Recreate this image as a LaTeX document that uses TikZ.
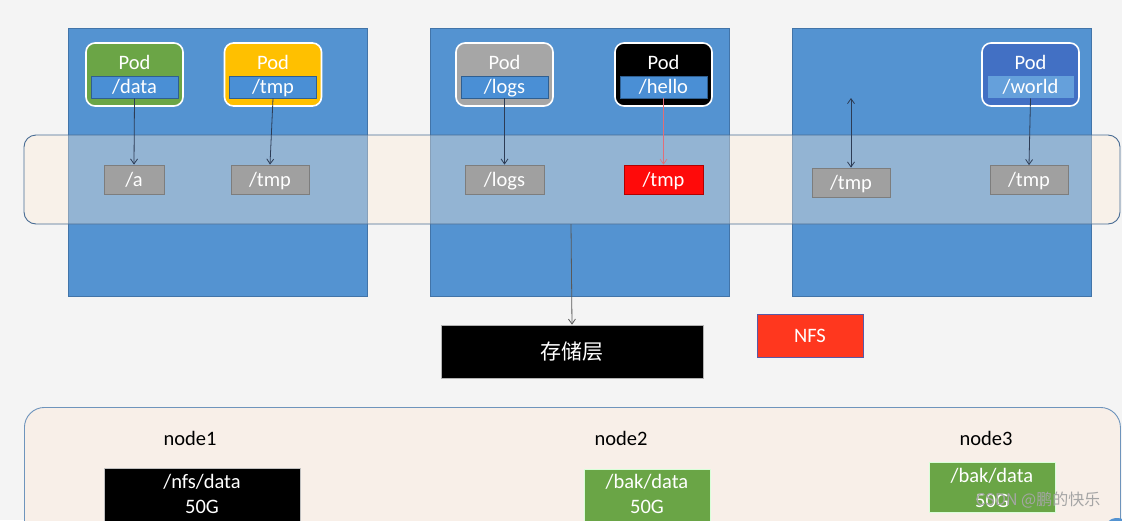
\documentclass[tikz,border=0pt]{standalone}
\usepackage{fontspec}
\setmainfont{Carlito}
\newfontfamily\cjk{Noto Sans CJK SC}
\usetikzlibrary{arrows.meta}
\definecolor{bgc}{RGB}{244,244,244}
\definecolor{hostblue}{RGB}{84,147,209}
\definecolor{hostedge}{RGB}{66,116,168}
\definecolor{bandfill}{RGB}{255,237,216}
\definecolor{bandedge}{RGB}{72,108,148}
\definecolor{podgreen}{RGB}{107,165,70}
\definecolor{podyellow}{RGB}{255,192,0}
\definecolor{podgray}{RGB}{166,166,166}
\definecolor{podnavy}{RGB}{66,112,196}
\definecolor{mountblue}{RGB}{74,143,213}
\definecolor{mountedge}{RGB}{47,95,145}
\definecolor{volgray}{RGB}{160,160,160}
\definecolor{voledge}{RGB}{125,125,125}
\definecolor{volred}{RGB}{255,10,10}
\definecolor{nfsred}{RGB}{255,55,30}
\definecolor{panelfill}{RGB}{248,239,232}
\definecolor{paneledge}{RGB}{110,148,188}
\definecolor{linkc}{RGB}{45,60,85}
\definecolor{linkred}{RGB}{225,110,120}
\definecolor{diskgreen}{RGB}{106,165,70}
\definecolor{wmgray}{RGB}{165,165,165}
\tikzset{
  txt/.style={font=\fontsize{20.5}{23}\selectfont},
  hostbox/.style={draw=hostedge, fill=hostblue, line width=0.8pt, minimum width=299pt, minimum height=268pt, inner sep=0pt},
  podbox/.style={draw=white, line width=1.6pt, rounded corners=9pt, minimum width=97pt, minimum height=63pt, inner sep=0pt},
  podlabel/.style={txt, text=white, inner sep=0pt},
  mountbox/.style={txt, text=white, fill=mountblue, draw=mountedge, line width=0.8pt, minimum width=87pt, minimum height=22pt, inner sep=0pt, text height=15pt, text depth=2pt},
  volbox/.style={txt, text=white, fill=volgray, draw=voledge, line width=0.8pt, minimum height=29pt, inner sep=0pt, text height=15pt, text depth=2pt},
  link/.style={draw=linkc, line width=0.8pt, -{Straight Barb[length=5pt,width=7pt]}},
  diskbox/.style={text=white, align=center, inner sep=0pt, font=\fontsize{20.5}{25.5}\selectfont},
  nodelabel/.style={txt, text=black, inner sep=0pt}
}
\begin{document}
\begin{tikzpicture}[x=1pt,y=-1pt]
\useasboundingbox (0,0) rectangle (1122,520);
\clip (0,0) rectangle (1122,520);
\fill[bgc] (0,0) rectangle (1122,520);

% host boxes
\node[hostbox] (h1) at (217.5,162) {};
\node[hostbox] (h2) at (579.5,162) {};
\node[hostbox] (h3) at (941.5,162) {};

% band
\node[draw=bandedge, line width=0.9pt, fill=bandfill, fill opacity=0.37, rounded corners=12pt, minimum width=1096pt, minimum height=89pt, inner sep=0pt] (band) at (572,179.5) {};

% pods
\node[podbox, fill=podgreen] (p1) at (134.5,74.5) {};
\node[podlabel] (p1l) at (134.5,62) {Pod};
\node[mountbox] (m1) at (134.5,87) {/data};

\node[podbox, fill=podyellow] (p2) at (273,74.5) {};
\node[podlabel] (p2l) at (273,62) {Pod};
\node[mountbox] (m2) at (273,87) {/tmp};

\node[podbox, fill=podgray] (p3) at (504.5,74.5) {};
\node[podlabel] (p3l) at (504.5,62) {Pod};
\node[mountbox] (m3) at (504.5,87) {/logs};

\node[podbox, fill=black] (p4) at (663.5,74.5) {};
\node[podlabel] (p4l) at (663.5,62) {Pod};
\node[mountbox] (m4) at (663.5,87) {/hello};

\node[podbox, fill=podnavy] (p5) at (1030.5,74.5) {};
\node[podlabel] (p5l) at (1030.5,62) {Pod};
\node[mountbox, fill=mountblue!85!white, draw=none, minimum width=86pt] (m5) at (1030.5,87) {/world};

% volumes in band
\node[volbox, minimum width=60pt] (va) at (134,179.5) {/a};
\node[volbox, minimum width=78pt] (vt1) at (270,179.5) {/tmp};
\node[volbox, minimum width=79pt] (vl) at (504.5,179.5) {/logs};
\node[volbox, minimum width=79pt, fill=volred, draw=red!70!black] (vr) at (663.5,179.5) {/tmp};
\node[volbox, minimum width=78pt] (vt3) at (851,182.5) {/tmp};
\node[volbox, minimum width=78pt] (vt4) at (1029,180) {/tmp};

% links
\draw[link] (m1.south) -- (va.north);
\draw[link] (m2.south) -- (vt1.north);
\draw[link] (m3.south) -- (vl.north);
\draw[link, draw=linkred, line width=0.6pt] (m4.south) -- (vr.north);
\draw[link] (m5.south) -- (vt4.north);
\coordinate (up3) at (851,98);
\draw[link, {Straight Barb[length=5pt,width=7pt]}-{Straight Barb[length=5pt,width=7pt]}] (up3) -- (vt3.north);

% storage layer
\node[fill=black, draw=gray!60, line width=0.6pt, minimum width=262pt, minimum height=53pt, inner sep=0pt, text=white, font=\cjk\fontsize{21}{23}\selectfont] (store) at (572,351.5) {存储层};
\coordinate (bandbot) at (571,224);
\draw[draw=gray!70!black, line width=0.8pt, -{Straight Barb[length=5pt,width=7pt]}] (bandbot) -- (store.north);

\node[fill=nfsred, draw=gray!70!blue, line width=0.6pt, minimum width=106pt, minimum height=43pt, inner sep=0pt, text=white, txt] (nfs) at (810,335.5) {NFS};

% bottom panel
\node[draw=paneledge, line width=0.9pt, fill=panelfill, rounded corners=20pt, minimum width=1096pt, minimum height=160pt, inner sep=0pt, anchor=north west] (panel) at (24,407) {};

\node[nodelabel] (n1) at (190,438) {node1};
\node[nodelabel] (n2) at (621,438) {node2};
\node[nodelabel] (n3) at (986,438) {node3};

\node[fill=black, draw=gray!50, minimum width=196pt, minimum height=62pt, inner sep=0pt, anchor=north] (d1box) at (202,468) {};
\node[diskbox] (d1) at (202,494) {/nfs/data\\50G};

\node[fill=diskgreen, draw=white!85!green, line width=0.8pt, minimum width=126pt, minimum height=62pt, inner sep=0pt, anchor=north] (d2box) at (647,469) {};
\node[diskbox] (d2) at (647,494) {/bak/data\\50G};

\node[fill=diskgreen, draw=white!85!green, line width=0.8pt, minimum width=126pt, minimum height=50pt, inner sep=0pt] (d3box) at (992,487) {};
\node[diskbox] (d3) at (992,488) {/bak/data\\50G};

% watermark
\node[text=wmgray, font=\cjk\fontsize{16}{18}\selectfont, inner sep=0pt] (wm) at (1038,500) {CSDN @鹏的快乐};
\node[circle, fill=hostblue, minimum size=28pt, inner sep=0pt] (dot) at (1117,532) {};
\end{tikzpicture}
\end{document}
